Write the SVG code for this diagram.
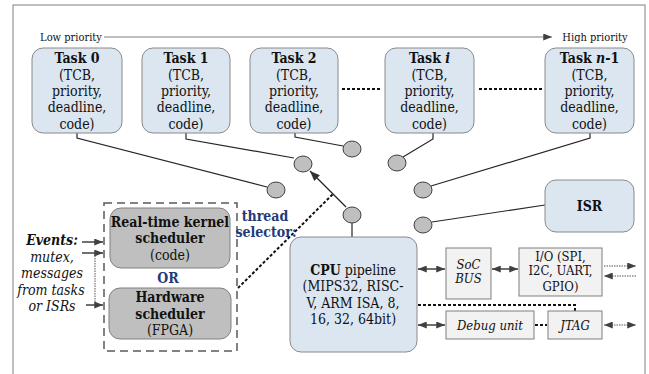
<svg xmlns="http://www.w3.org/2000/svg" width="649" height="374" viewBox="0 0 649 374">
<defs>
<style>
.t{font-family:'DejaVu Serif Condensed','DejaVu Serif',serif;font-stretch:condensed;fill:#111;text-anchor:middle}
.f15{font-size:14px}
.f14{font-size:13px}
.f12{font-size:11px}
.b{font-weight:bold}
.i{font-style:italic}
.navy{fill:#1f3a7a}
.task{fill:#dce6f1;stroke:#8a8a8a;stroke-width:1}
.sched{fill:#bfbfbf;stroke:#808080;stroke-width:1}
.per{fill:#f2f2f2;stroke:#7f7f7f;stroke-width:1}
.sw{fill:#bfbfbf;stroke:#404040;stroke-width:1}
.ln{stroke:#262626;stroke-width:1.2;fill:none}
.dot{stroke:#111;stroke-width:2;stroke-dasharray:3,2;fill:none}
.arr{stroke:#404040;stroke-width:1.5;fill:none}
.thin{stroke:#555;stroke-width:1;stroke-dasharray:1.5,1;fill:none}
</style>
<marker id="ah" viewBox="0 0 10 8" refX="10" refY="4" markerWidth="9" markerHeight="7" markerUnits="userSpaceOnUse" orient="auto-start-reverse">
<path d="M0,0 L10,4 L0,8 z" fill="#404040"/>
</marker>
<marker id="ahb" viewBox="0 0 10 8" refX="10" refY="4" markerWidth="11" markerHeight="8" markerUnits="userSpaceOnUse" orient="auto">
<path d="M0,0 L10,4 L0,8 z" fill="#333"/>
</marker>
</defs>

<rect x="13" y="5" width="632" height="380" fill="none" stroke="#808080" stroke-width="1"/>

<g id="priority">
<text class="t f12" x="71" y="41">Low priority</text>
<line x1="104" y1="37" x2="552" y2="37" stroke="#808080" stroke-width="1" marker-end="url(#ah)"/>
<text class="t f12" x="595" y="41">High priority</text>
</g>

<g id="connectors">
<polyline class="ln" points="77,133 77,138 267,187"/>
<polyline class="ln" points="186,133 186,139 294,158"/>
<polyline class="ln" points="295,133 295,137 343,146"/>
<polyline class="ln" points="433,133 433,139 403,157"/>
<polyline class="ln" points="590,133 590,138 431,186"/>
<line class="ln" x1="545" y1="205" x2="432" y2="222"/>
<line class="ln" x1="352" y1="223" x2="352" y2="237"/>
<line class="ln" x1="346" y1="207" x2="310" y2="171" marker-end="url(#ahb)"/>
<line class="dot" x1="342" y1="89" x2="380" y2="89"/>
<line class="dot" x1="479" y1="89" x2="542" y2="89"/>
<line class="dot" x1="238" y1="288" x2="333" y2="194"/>
<line class="arr" x1="82" y1="242" x2="103" y2="242" marker-end="url(#ah)"/>
<line class="arr" x1="82" y1="253" x2="103" y2="253" marker-end="url(#ah)"/>
<line class="arr" x1="86" y1="305" x2="103" y2="305" marker-end="url(#ah)"/>
<line class="thin" x1="95" y1="253" x2="95" y2="305"/>
<line class="arr" x1="418" y1="269" x2="445" y2="269" marker-start="url(#ah)" marker-end="url(#ah)"/>
<line class="arr" x1="492" y1="269" x2="518" y2="269" marker-start="url(#ah)" marker-end="url(#ah)"/>
<line class="arr" x1="418" y1="325" x2="445" y2="325" marker-start="url(#ah)" marker-end="url(#ah)"/>
<line class="dot" x1="535" y1="325" x2="547" y2="325"/>
<polyline class="dot" points="418,305 575,305 575,311"/>
<line class="thin" x1="604" y1="266" x2="636" y2="266" marker-end="url(#ah)"/>
<line class="thin" x1="636" y1="276" x2="604" y2="276" marker-end="url(#ah)"/>
<line class="thin" x1="604" y1="325" x2="636" y2="325" marker-start="url(#ah)" marker-end="url(#ah)"/>
</g>

<g id="task0">
<rect class="task" x="32" y="48" width="90" height="85" rx="11"/>
<text class="t f15 b" x="77" y="63">Task 0</text>
<text class="t f15" x="77" y="79.5">(TCB,</text>
<text class="t f15" x="77" y="96">priority,</text>
<text class="t f15" x="77" y="112">deadline,</text>
<text class="t f15" x="77" y="128.5">code)</text>
</g>
<g id="task1">
<rect class="task" x="142" y="48" width="88" height="85" rx="11"/>
<text class="t f15 b" x="186" y="63">Task 1</text>
<text class="t f15" x="186" y="79.5">(TCB,</text>
<text class="t f15" x="186" y="96">priority,</text>
<text class="t f15" x="186" y="112">deadline,</text>
<text class="t f15" x="186" y="128.5">code)</text>
</g>
<g id="task2">
<rect class="task" x="250" y="48" width="88" height="85" rx="11"/>
<text class="t f15 b" x="294" y="63">Task 2</text>
<text class="t f15" x="294" y="79.5">(TCB,</text>
<text class="t f15" x="294" y="96">priority,</text>
<text class="t f15" x="294" y="112">deadline,</text>
<text class="t f15" x="294" y="128.5">code)</text>
</g>
<g id="taski">
<rect class="task" x="385" y="48" width="89" height="85" rx="11"/>
<text class="t f15 b" x="429.5" y="63">Task <tspan class="i">i</tspan></text>
<text class="t f15" x="429.5" y="79.5">(TCB,</text>
<text class="t f15" x="429.5" y="96">priority,</text>
<text class="t f15" x="429.5" y="112">deadline,</text>
<text class="t f15" x="429.5" y="128.5">code)</text>
</g>
<g id="taskn1">
<rect class="task" x="545" y="48" width="89" height="85" rx="11"/>
<text class="t f15 b" x="589.5" y="63">Task <tspan class="i">n</tspan>-1</text>
<text class="t f15" x="589.5" y="79.5">(TCB,</text>
<text class="t f15" x="589.5" y="96">priority,</text>
<text class="t f15" x="589.5" y="112">deadline,</text>
<text class="t f15" x="589.5" y="128.5">code)</text>
</g>

<g id="switches">
<ellipse class="sw" cx="352" cy="149" rx="9" ry="8"/>
<ellipse class="sw" cx="303" cy="164" rx="9" ry="8"/>
<ellipse class="sw" cx="397" cy="163" rx="9" ry="8"/>
<ellipse class="sw" cx="276" cy="190" rx="9" ry="8"/>
<ellipse class="sw" cx="423" cy="190" rx="9" ry="8"/>
<ellipse class="sw" cx="352" cy="215" rx="9" ry="8"/>
<ellipse class="sw" cx="423" cy="225" rx="9" ry="8"/>
</g>

<g id="isr">
<rect class="task" x="545" y="180" width="89" height="52" rx="11"/>
<text class="t f15 b" x="589.5" y="211">ISR</text>
</g>

<g id="scheduler-group">
<rect x="104" y="203" width="133" height="148" fill="none" stroke="#595959" stroke-width="1.5" stroke-dasharray="8,5"/>
<text class="t f15 b navy" x="265" y="221">thread</text>
<text class="t f15 b navy" x="266" y="237">selector:</text>
<text class="t f15 b navy" x="168" y="283">OR</text>
</g>
<g id="rtk">
<rect class="sched" x="110" y="208" width="120" height="60" rx="11"/>
<text class="t f15 b" x="170" y="227">Real-time kernel</text>
<text class="t f15 b" x="170" y="243">scheduler</text>
<text class="t f15" x="170" y="260">(code)</text>
</g>
<g id="hw">
<rect class="sched" x="109" y="288" width="122" height="51" rx="11"/>
<text class="t f15 b" x="170" y="302">Hardware</text>
<text class="t f15 b" x="170" y="319">scheduler</text>
<text class="t f15" x="170" y="335">(FPGA)</text>
</g>

<g id="events">
<text class="t f15 b i" x="52" y="245">Events:</text>
<text class="t f15 i" x="52" y="262">mutex,</text>
<text class="t f15 i" x="52" y="278">messages</text>
<text class="t f15 i" x="51" y="295">from tasks</text>
<text class="t f15 i" x="52" y="311">or ISRs</text>
</g>

<g id="cpu">
<rect class="task" x="290" y="237" width="127" height="115" rx="11"/>
<text class="t f15" x="353" y="275"><tspan class="b">CPU</tspan> pipeline</text>
<text class="t f15" x="353" y="291">(MIPS32, RISC-</text>
<text class="t f15" x="353" y="307.5">V, ARM ISA, 8,</text>
<text class="t f15" x="353" y="324">16, 32, 64bit)</text>
</g>

<g id="socbus">
<rect class="per" x="446" y="248" width="45" height="51"/>
<text class="t f14 i" x="468.5" y="269">SoC</text>
<text class="t f14 i" x="468.5" y="283">BUS</text>
</g>
<g id="io">
<rect class="per" x="519" y="248" width="83" height="48"/>
<text class="t f14" x="560.5" y="261">I/O (SPI,</text>
<text class="t f14" x="560.5" y="275">I2C, UART,</text>
<text class="t f14" x="560.5" y="291">GPIO)</text>
</g>
<g id="debug">
<rect class="per" x="446" y="311" width="88" height="28"/>
<text class="t f14 i" x="490" y="330">Debug unit</text>
</g>
<g id="jtag">
<rect class="per" x="548" y="311" width="54" height="28"/>
<text class="t f14 i" x="575" y="330">JTAG</text>
</g>
</svg>
